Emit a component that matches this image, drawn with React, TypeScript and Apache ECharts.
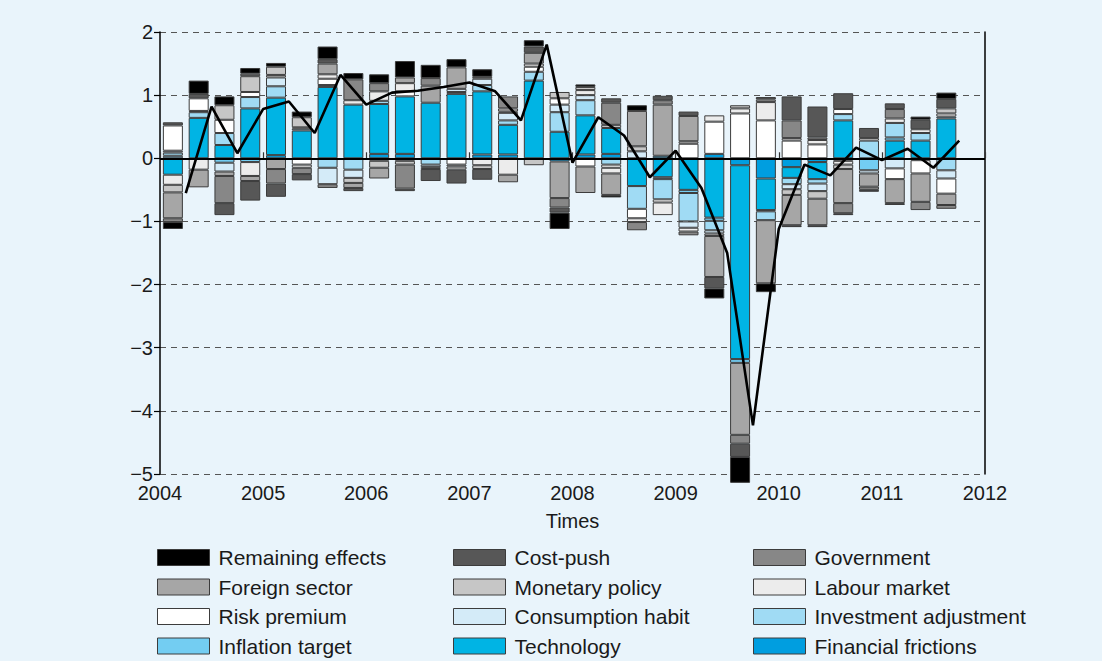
import React, { useEffect, useRef } from 'react';
import * as echarts from 'echarts';

// Quarterly contributions (2004Q1 .. 2011Q3), one value per bar
const financialFrictions = [0,0,0,0,0.05,0,0,0,0.07,0.07,0,0,0.06,0.06,0,-0.05,0.06,0.07,0,0.04,0,0.07,-0.11,-0.32,-0.14,-0.06,0,0,0,0,0];
const technology = [-0.26,0.64,0.21,0.79,0.91,0.44,1.13,0.85,0.79,0.91,0.88,1.02,1.0,0.47,1.23,0.42,0.62,0.41,-0.44,-0.3,-0.5,-0.94,-3.07,-0.5,-0.17,-0.27,0.6,0,0.28,0.28,0.63];
const inflationTarget = [0.04,0,-0.07,-0.06,0,0,0.03,0,0,0,0,0,0,0,0,0,0,0,0,-0.03,-0.05,-0.05,-0.06,-0.02,0,0,0,-0.19,0.05,0,0.03];
const investmentAdjustment = [0.05,0.09,0.19,0.18,0.18,0.03,-0.15,-0.18,0.05,0,-0.1,0.03,0.1,0.07,0.14,0.31,0.24,-0.1,-0.36,-0.32,-0.45,-0.15,0,-0.14,-0.1,-0.07,0.1,0.28,0.23,0.12,-0.19];
const consumptionHabit = [0.03,0.02,-0.14,0,0.14,0.02,-0.26,-0.13,0,-0.04,-0.04,0.05,0.1,0.12,0,0.12,0.08,0,0.11,0,-0.1,-0.05,0,0,-0.08,-0.12,-0.04,-0.05,-0.16,-0.03,-0.13];
const riskPremium = [0.4,0.2,0.21,0.08,0,-0.1,0.1,0,-0.04,0.08,-0.03,-0.1,0,0.02,0.08,0.1,-0.13,-0.05,-0.15,-0.05,0.23,0.51,0.71,0.6,0.28,0.22,0.08,0.04,-0.17,-0.21,-0.24];
const labourMarket = [-0.16,-0.18,0,-0.22,0.04,-0.05,0.07,0.07,0.15,0.13,0,-0.03,-0.11,-0.26,0.05,0,0.08,-0.09,-0.06,-0.2,-0.06,0.1,0.08,0.29,0.04,0.07,-0.06,0,0.07,0.06,0.05];
const monetaryPolicy = [-0.12,0,0.23,0.25,0.13,0.16,0,-0.08,-0.11,-0.06,0,-0.05,-0.06,0.05,-0.11,0.1,0.05,0.05,0.08,0,0.04,-0.04,0.05,0.04,-0.09,-0.12,-0.07,0,0,0,0.08];
const foreignSector = [-0.41,-0.28,-0.07,-0.08,-0.17,0,0.17,-0.08,-0.17,0.09,0.27,0.34,0.03,-0.12,0.17,-0.58,-0.42,-0.34,0.56,0.81,0.4,-0.65,-1.14,-1.0,-0.48,-0.42,-0.54,-0.21,-0.38,-0.45,-0.18];
const government = [-0.06,0,-0.43,0.04,-0.23,-0.1,-0.06,0.33,0.13,-0.38,0.12,0,0,0.19,0,-0.15,0,0.35,-0.13,0.07,-0.06,0,-0.14,0,0.28,0.04,-0.16,-0.05,0.15,-0.13,-0.06];
const costPush = [0.05,0.07,-0.19,-0.31,-0.21,-0.1,0.07,-0.05,0,-0.04,-0.19,-0.22,-0.17,0,0.1,-0.08,0,0.07,0,0.07,0.07,-0.18,-0.21,0.04,0.38,0.49,0.25,0.16,0.09,0.15,0.15];
const remainingEffects = [-0.11,0.21,0.14,0.09,0.06,0.09,0.2,0.1,0.14,0.26,0.21,0.13,0.12,0,0.1,-0.26,0.04,-0.04,0.09,0,0,-0.16,-0.41,-0.14,-0.03,-0.03,-0.03,-0.03,-0.03,0.05,0.1];

// Black line (total), one point per quarter end
const totalLine = [-0.55,0.82,0.08,0.78,0.9,0.4,1.32,0.85,1.04,1.07,1.13,1.2,1.06,0.6,1.8,-0.07,0.65,0.36,-0.3,0.12,-0.47,-1.5,-4.23,-1.12,-0.1,-0.27,0.17,-0.03,0.15,-0.15,0.28];

const yearTicks = [2004, 2005, 2006, 2007, 2008, 2009, 2010, 2011, 2012];
const yTicks = [-5, -4, -3, -2, -1, 0, 1, 2];

const seriesDefs = [
  { name: 'Financial frictions', color: '#009ee0', data: financialFrictions },
  { name: 'Technology', color: '#00b4e4', data: technology },
  { name: 'Inflation target', color: '#73cdf2', data: inflationTarget },
  { name: 'Investment adjustment', color: '#a0dbf4', data: investmentAdjustment },
  { name: 'Consumption habit', color: '#d4ebf8', data: consumptionHabit },
  { name: 'Risk premium', color: '#ffffff', data: riskPremium },
  { name: 'Labour market', color: '#ececec', data: labourMarket },
  { name: 'Monetary policy', color: '#c6c6c6', data: monetaryPolicy },
  { name: 'Foreign sector', color: '#a6a6a6', data: foreignSector },
  { name: 'Government', color: '#878787', data: government },
  { name: 'Cost-push', color: '#575757', data: costPush },
  { name: 'Remaining effects', color: '#000000', data: remainingEffects },
];

const legendColumns = [
  ['Remaining effects', 'Foreign sector', 'Risk premium', 'Inflation target'],
  ['Cost-push', 'Monetary policy', 'Consumption habit', 'Technology'],
  ['Government', 'Labour market', 'Investment adjustment', 'Financial frictions'],
];

const FONT = "'Liberation Sans', Arial, sans-serif";

export default function App() {
  const ref = useRef<HTMLDivElement>(null);
  useEffect(() => {
    if (!ref.current) return;
    const chart = echarts.init(ref.current, null, { renderer: 'svg' });
    const firstYear = yearTicks[0];
    const lastYear = yearTicks[yearTicks.length - 1];
    const quarters: string[] = [];
    for (let y = firstYear; y < lastYear; y++) for (let q = 1; q <= 4; q++) quarters.push(`${y}Q${q}`);
    const lineX = (i: number) => firstYear + 0.25 + 0.25 * i;

    const bars = seriesDefs.map((d) => ({
      name: d.name,
      type: 'bar',
      stack: 'total',
      barWidth: 20,
      clip: false,
      xAxisIndex: 0,
      yAxisIndex: 0,
      itemStyle: { color: d.color, borderColor: '#3c3c3c', borderWidth: 1 },
      emphasis: { disabled: true },
      data: d.data.map((v) => (v === 0 ? '-' : v)),
    }));

    const legendCols = [157, 453, 753];
    const legends = legendColumns.map((col, ci) => ({
      show: true,
      orient: 'vertical',
      left: legendCols[ci],
      top: 547,
      height: 200,
      padding: 0,
      itemWidth: 52,
      itemHeight: 16,
      itemGap: 8.5,
      icon: 'rect',
      selectedMode: false,
      data: col,
      itemStyle: { borderColor: '#3c3c3c', borderWidth: 1 },
      textStyle: { fontSize: 21, color: '#1a1a1a', fontFamily: FONT, padding: [0, 0, 0, 4] },
    }));

    chart.setOption({
      animation: false,
      backgroundColor: '#e9f4fb',
      textStyle: { fontFamily: FONT },
      grid: { left: 160, right: 117, top: 32, bottom: 187, containLabel: false },
      legend: legends,
      xAxis: [
        {
          type: 'category',
          data: quarters,
          boundaryGap: true,
          show: false,
        },
        {
          type: 'value',
          position: 'bottom',
          min: firstYear,
          max: lastYear,
          interval: 1,
          axisLine: { show: false },
          axisTick: { show: true, inside: true, length: 6, lineStyle: { color: '#333', width: 1.2 } },
          splitLine: { show: false },
          axisLabel: { fontSize: 20, color: '#1a1a1a', margin: 9, fontFamily: FONT, formatter: (v: number) => String(v) },
          name: 'Times',
          nameLocation: 'middle',
          nameGap: 37,
          nameTextStyle: { fontSize: 20, color: '#1a1a1a', fontFamily: FONT },
        },
      ],
      yAxis: [
        {
          type: 'value',
          min: yTicks[0],
          max: yTicks[yTicks.length - 1],
          interval: 1,
          axisLine: { show: true, lineStyle: { color: '#000', width: 1.5 } },
          axisTick: { show: true, length: 6, lineStyle: { color: '#000', width: 1.2 } },
          axisLabel: {
            fontSize: 20,
            color: '#1a1a1a',
            margin: 7,
            fontFamily: FONT,
            formatter: (v: number) => String(v).replace('-', '\u2212'),
          },
          splitLine: { show: true, lineStyle: { color: '#555', type: [6, 5], width: 1.2 } },
        },
        {
          type: 'value',
          position: 'right',
          min: yTicks[0],
          max: yTicks[yTicks.length - 1],
          interval: 1,
          axisLine: { show: true, lineStyle: { color: '#000', width: 1.5 } },
          axisTick: { show: false },
          axisLabel: { show: false },
          splitLine: { show: false },
        },
      ],
      series: [
        ...bars,
        {
          name: 'Total',
          type: 'line',
          xAxisIndex: 1,
          yAxisIndex: 0,
          z: 5,
          clip: false,
          symbol: 'none',
          lineStyle: { color: '#000', width: 2.6 },
          emphasis: { disabled: true },
          data: totalLine.map((v, i) => [lineX(i), v]),
          markLine: {
            silent: true,
            symbol: ['none', 'none'],
            label: { show: false },
            lineStyle: { color: '#000', type: 'solid', width: 2 },
            data: [{ yAxis: 0 }],
          },
        },
      ],
    });
    return () => chart.dispose();
  }, []);
  return <div ref={ref} style={{ position: 'absolute', left: 0, top: 0, width: 1102, height: 661 }} />;
}
